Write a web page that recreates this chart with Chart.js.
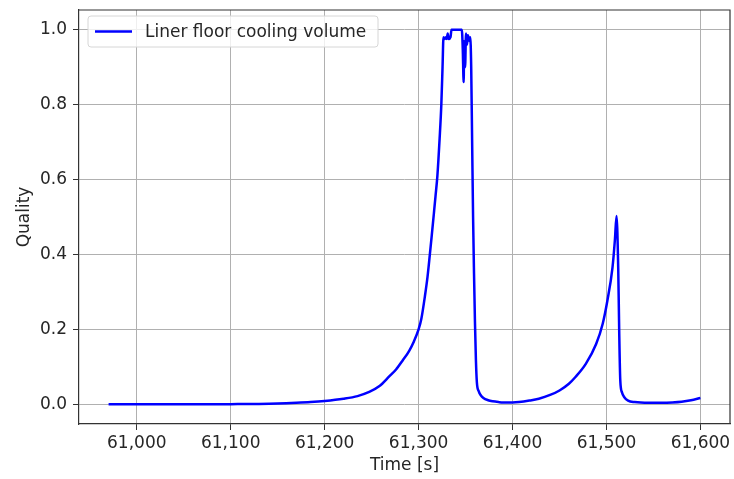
<!DOCTYPE html>
<html>
<head>
<meta charset="utf-8">
<script src="https://cdn.jsdelivr.net/npm/chart.js@4.4.1/dist/chart.umd.min.js"></script>
<style>
  html, body { margin: 0; padding: 0; background: #fff; }
  #wrap { width: 734px; height: 479px; position: relative; }
</style>
</head>
<body>
<div id="wrap"><canvas id="chart" width="734" height="479"></canvas></div>
<script>
const seriesLabel = "Liner floor cooling volume";

const timeValues = [
  60970, 61000, 61050, 61100, 61130, 61150, 61170, 61185, 61200, 61220,
  61235, 61247.5, 61258, 61269, 61276, 61283, 61290, 61295, 61300, 61303,
  61306.7, 61309.5, 61312, 61314, 61316.3, 61318, 61320, 61322.4, 61324.2, 61325.5,
  61326.5, 61327.5, 61329, 61330, 61331, 61332, 61334, 61335, 61346, 61347,
  61348, 61348.5, 61349.5, 61350.5, 61351.5, 61352.5, 61354, 61355, 61356, 61357,
  61358, 61359, 61360, 61361, 61362, 61364, 61366, 61369, 61374, 61379,
  61385, 61390, 61400, 61407, 61418, 61428, 61440, 61450, 61460, 61467,
  61478, 61489, 61496, 61501, 61506.4, 61509, 61510.7, 61512.5, 61513.6, 61514.7,
  61516.5, 61519, 61523, 61530, 61545, 61560, 61570, 61580, 61590, 61600
];

const qualityValues = [
  0, 0, 0, 0.0005, 0.001, 0.002, 0.004, 0.006, 0.009, 0.015,
  0.022, 0.033, 0.048, 0.075, 0.093, 0.117, 0.143, 0.168, 0.2, 0.229,
  0.288, 0.34, 0.4, 0.45, 0.51, 0.555, 0.61, 0.71, 0.8, 0.9,
  0.98, 0.975, 0.98, 0.975, 0.99, 0.975, 0.98, 1.0, 1.0, 0.95,
  0.86, 0.97, 0.9, 0.99, 0.96, 0.985, 0.97, 0.98, 0.9, 0.7,
  0.5, 0.35, 0.22, 0.12, 0.06, 0.035, 0.025, 0.017, 0.011, 0.008,
  0.006, 0.005, 0.005, 0.006, 0.01, 0.015, 0.025, 0.037, 0.055, 0.073,
  0.108, 0.161, 0.215, 0.277, 0.365, 0.44, 0.503, 0.365, 0.188, 0.064,
  0.032, 0.019, 0.01, 0.006, 0.004, 0.004, 0.005, 0.007, 0.011, 0.017
];

const xTicks = [61000, 61100, 61200, 61300, 61400, 61500, 61600];
const yTicks = [0, 0.2, 0.4, 0.6, 0.8, 1.0];

const FONT = "'DejaVu Sans', sans-serif";
const TEXT = "#262626";

const points = timeValues.map((t, i) => ({ x: t, y: qualityValues[i] }));

// top and right spines, so the plot has a full frame
const frameBox = {
  id: "frameBox",
  afterDatasetsDraw(chart) {
    const { ctx, chartArea: a } = chart;
    ctx.save();
    ctx.strokeStyle = "#333";
    ctx.lineWidth = 1.2;
    ctx.beginPath();
    ctx.moveTo(a.left, a.top);
    ctx.lineTo(a.right, a.top);
    ctx.lineTo(a.right, a.bottom);
    ctx.stroke();
    ctx.restore();
  },
};

// legend drawn inside the plot, like matplotlib's upper-left legend
const insideLegend = {
  id: "insideLegend",
  afterDraw(chart) {
    const ctx = chart.ctx;
    const area = chart.chartArea;
    const x = area.left + 9;
    const y = area.top + 6;
    const w = 290;
    const h = 31;
    ctx.save();
    ctx.beginPath();
    ctx.roundRect(x, y, w, h, 3);
    ctx.fillStyle = "rgba(255,255,255,0.8)";
    ctx.fill();
    ctx.strokeStyle = "#d6d6d6";
    ctx.lineWidth = 1;
    ctx.stroke();
    ctx.beginPath();
    ctx.moveTo(x + 7, y + h / 2);
    ctx.lineTo(x + 44, y + h / 2);
    ctx.strokeStyle = "#0000ff";
    ctx.lineWidth = 2.5;
    ctx.stroke();
    ctx.fillStyle = TEXT;
    ctx.font = "17px " + FONT;
    ctx.textBaseline = "middle";
    ctx.fillText(seriesLabel, x + 57, y + h / 2 + 1);
    ctx.restore();
  },
};

new Chart(document.getElementById("chart"), {
  type: "line",
  data: {
    datasets: [
      {
        label: seriesLabel,
        data: points,
        borderColor: "#0000ff",
        borderWidth: 2.5,
        pointRadius: 0,
        cubicInterpolationMode: "monotone",
        fill: false,
      },
    ],
  },
  options: {
    responsive: false,
    animation: false,
    layout: { padding: { top: 10, right: 4, left: 0, bottom: 0 } },
    plugins: {
      legend: { display: false },
      tooltip: { enabled: false },
    },
    scales: {
      x: {
        type: "linear",
        min: 60938.5,
        max: 61631.5,
        afterBuildTicks: (scale) => {
          scale.ticks = xTicks.map((v) => ({ value: v }));
        },
        afterFit: (scale) => {
          scale.height = 55;
          scale.paddingLeft = 0;
          scale.paddingRight = 0;
        },
        ticks: {
          color: TEXT,
          font: { family: FONT, size: 17 },
          padding: 3,
          maxRotation: 0,
          callback: (v) => v.toLocaleString("en-US"),
        },
        grid: { color: "#b0b0b0", lineWidth: 1, tickColor: "#333", tickLength: 6 },
        border: { color: "#333", width: 1.2 },
        title: {
          display: true,
          text: "Time [s]",
          color: TEXT,
          font: { family: FONT, size: 17 },
          padding: { top: 0, bottom: 3 },
        },
      },
      y: {
        type: "linear",
        min: -0.0525,
        max: 1.0525,
        afterBuildTicks: (scale) => {
          scale.ticks = yTicks.map((v) => ({ value: v }));
        },
        afterFit: (scale) => {
          scale.width = 79;
          scale.paddingTop = 0;
          scale.paddingBottom = 0;
        },
        ticks: {
          color: TEXT,
          font: { family: FONT, size: 17 },
          padding: 6,
          callback: (v) => v.toFixed(1),
        },
        grid: { color: "#b0b0b0", lineWidth: 1, tickColor: "#333", tickLength: 6 },
        border: { color: "#333", width: 1.2 },
        title: {
          display: true,
          text: "Quality",
          color: TEXT,
          font: { family: FONT, size: 17 },
          padding: { top: 14, bottom: 0 },
        },
      },
    },
  },
  plugins: [frameBox, insideLegend],
});
</script>
</body>
</html>
